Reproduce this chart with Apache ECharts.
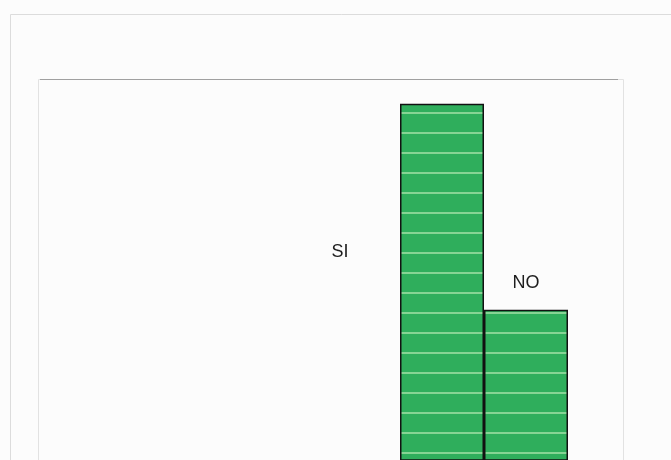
<!DOCTYPE html>
<html>
<head>
<meta charset="utf-8">
<script src="https://cdn.jsdelivr.net/npm/echarts@6/dist/echarts.min.js"></script>
<style>
  html, body { margin: 0; padding: 0; background: #fcfcfc; }
  #chart { width: 671px; height: 460px; }
</style>
</head>
<body>
<div id="chart"></div>
<script>
    // valori (la base delle barre è fuori dal riquadro)
    var categories = ['SI', 'NO'];
    var values = [67, 33];

    // motivo a righe orizzontali delle barre
    var stripe = document.createElement('canvas');
    stripe.width = 4;
    stripe.height = 20;
    var ctx = stripe.getContext('2d');
    ctx.fillStyle = '#2fae5c';
    ctx.fillRect(0, 0, 4, 20);
    ctx.fillStyle = '#86d494';
    ctx.fillRect(0, 12, 4, 2);

    var chart = echarts.init(document.getElementById('chart'));
    var option = {
        backgroundColor: '#fcfcfc',
        animation: false,
        graphic: [
            {   // cornice esterna
                type: 'rect',
                shape: {x: 10.5, y: 14.5, width: 700, height: 500},
                style: {fill: 'none', stroke: '#dcdcdc', lineWidth: 1}
            },
            {   // riquadro interno
                type: 'rect',
                shape: {x: 38.5, y: 79.5, width: 585, height: 420},
                style: {fill: 'none', stroke: '#e2e2e2', lineWidth: 1}
            },
            {
                type: 'line',
                shape: {x1: 40, y1: 79.5, x2: 618, y2: 79.5},
                style: {stroke: '#a0a0a0', lineWidth: 1.2}
            }
        ],
        grid: {
            left: 400,
            right: 103,
            top: 79,
            bottom: 0
        },
        xAxis: {
            type: 'category',
            data: categories,
            axisLine: {show: false},
            axisTick: {show: false},
            axisLabel: {show: false}
        },
        yAxis: {
            type: 'value',
            min: 8.2,
            max: 71.1,
            show: false,
            splitLine: {show: false}
        },
        series: [
            {
                type: 'bar',
                barWidth: '100%',
                data: values.map(function (v, i) {
                    var lbl = i === 0
                        ? {show: true, position: [-60, 148], align: 'center', verticalAlign: 'middle'}
                        : {show: true, position: 'top', distance: 18};
                    return {value: v, label: lbl};
                }),
                label: {
                    formatter: '{b}',
                    fontFamily: 'Liberation Sans, Arial, sans-serif',
                    fontSize: 18,
                    color: '#1e1e1e'
                },
                itemStyle: {
                    color: {image: stripe, repeat: 'repeat'},
                    borderColor: '#111',
                    borderWidth: 1.5
                }
            }
        ]
    };
    chart.setOption(option);
</script>
</body>
</html>
